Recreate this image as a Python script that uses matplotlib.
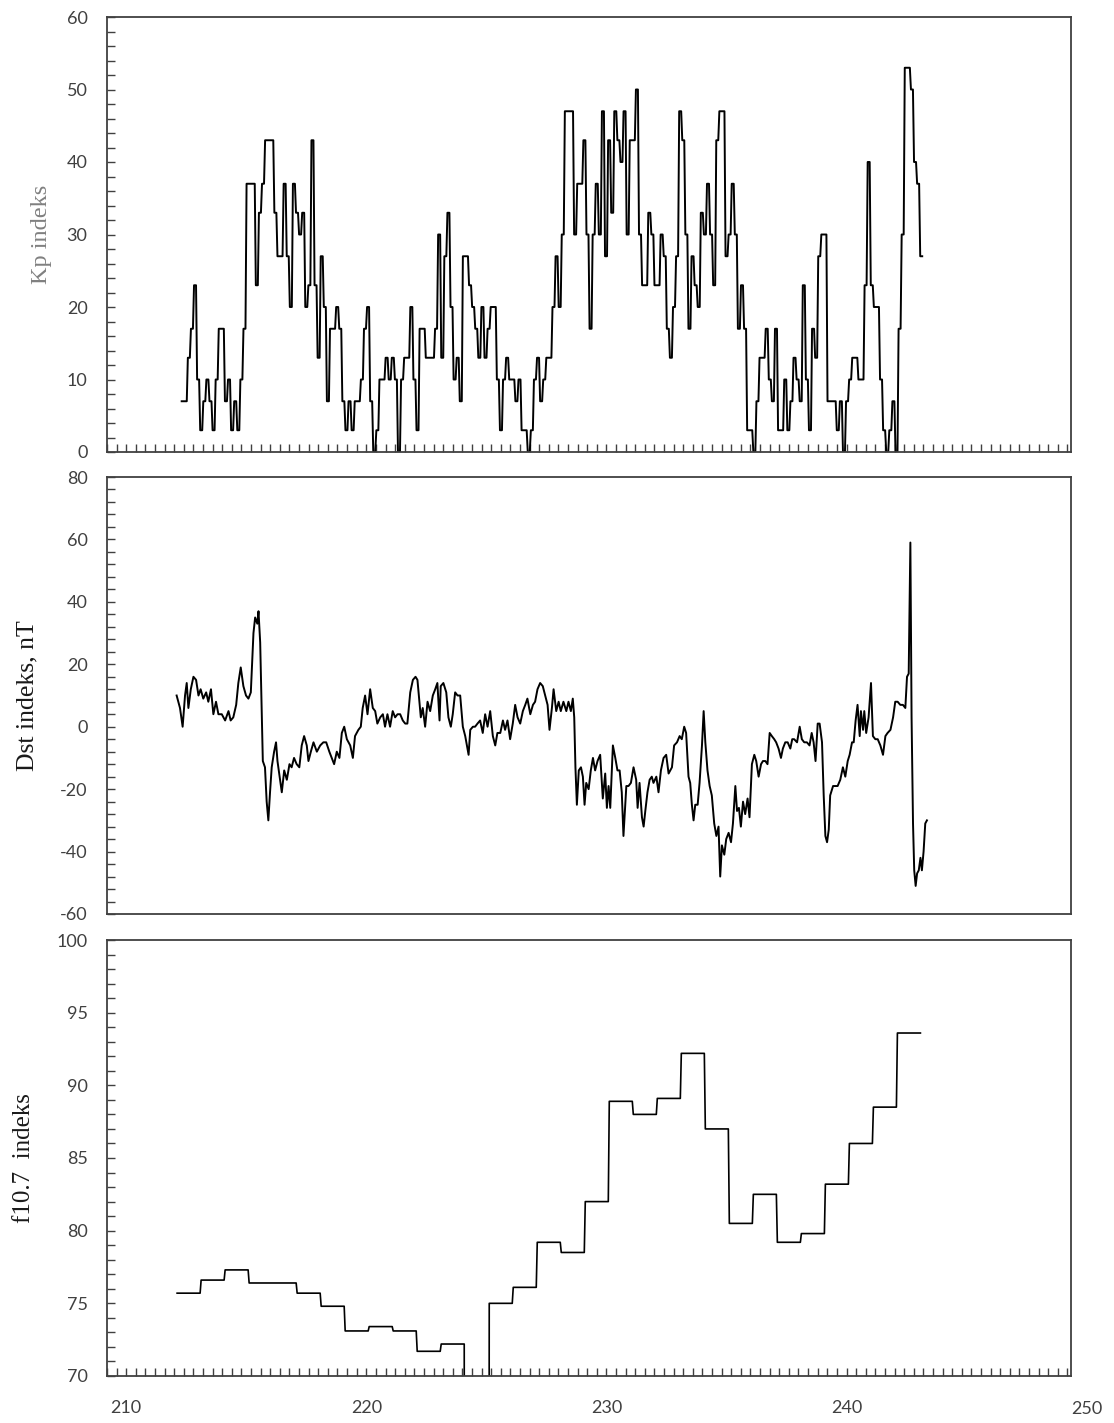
import numpy as np
import matplotlib
matplotlib.use('Agg')
import matplotlib.pyplot as plt
from matplotlib.ticker import MultipleLocator

# Kp indeksi (3 saatlik, x10), gün 212.3 - 243.1
kp_start, kp_end = 212.31, 243.07
kp = [7, 7, 13, 17, 23, 10, 3, 7, 10, 7, 3, 10, 17, 17, 7, 10, 3, 7, 3, 10,
      17, 37, 37, 37, 23, 33, 37, 43, 43, 43, 33, 27, 27, 37, 27, 20, 37, 33, 30, 33,
      20, 23, 43, 23, 13, 27, 20, 7, 17, 17, 20, 17, 7, 3, 7, 3, 7, 7, 10, 17,
      20, 7, 0, 3, 10, 10, 13, 10, 13, 10, 0, 10, 13, 13, 20, 10, 3, 17, 17,
      13, 13, 13, 17, 30, 13, 27, 33, 20, 10, 13, 7, 27, 27, 23, 20, 17, 13, 20, 13,
      17, 20, 20, 10, 3, 10, 13, 10, 10, 7, 10, 3, 3, 0, 3, 10, 13, 7, 10, 13,
      13, 20, 27, 20, 30, 47, 47, 47, 30, 37, 37, 43, 30, 17, 30, 37, 30, 47, 27, 43,
      33, 47, 43, 40, 47, 30, 43, 43, 50, 30, 23, 23, 33, 30, 23, 23, 30,
      27, 17, 13, 20, 27, 47, 43, 30, 17, 27, 23, 20, 33, 30, 37, 30, 23, 43, 47, 47,
      27, 30, 37, 30, 17, 23, 17, 3, 3, 0, 7, 13, 13, 17, 10, 7, 17, 3, 3, 10,
      3, 7, 13, 10, 7, 23, 10, 3, 17, 13, 27, 30, 30, 7, 7, 7, 3, 7, 0, 7,
      10, 13, 13, 10, 10, 23, 40, 23, 20, 20, 10, 3, 0, 3, 7, 0, 17, 30, 53, 53,
      50, 40, 37, 27]

# Dst indeksi (nT)
dst_day = [212.10, 212.24, 212.35, 212.45, 212.52, 212.59, 212.69, 212.80, 212.91, 213.01,
           213.10, 213.21, 213.33, 213.42, 213.53, 213.63, 213.74, 213.84, 213.98, 214.12,
           214.26, 214.35, 214.46, 214.58, 214.67, 214.77, 214.88, 214.99, 215.09, 215.19,
           215.30, 215.37, 215.46, 215.51, 215.58, 215.69, 215.78, 215.85, 215.92, 215.99,
           216.06, 216.16, 216.24, 216.30, 216.41, 216.48, 216.58, 216.69, 216.80, 216.89,
           216.99, 217.10, 217.21, 217.31, 217.41, 217.52, 217.59, 217.69, 217.80, 217.94,
           218.08, 218.21, 218.33, 218.46, 218.56, 218.66, 218.77, 218.88, 218.98, 219.08,
           219.19, 219.33, 219.44, 219.53, 219.67, 219.77, 219.85, 219.95, 220.05, 220.16,
           220.27, 220.37, 220.46, 220.58, 220.69, 220.78, 220.88, 220.99, 221.10, 221.20,
           221.30, 221.41, 221.52, 221.62, 221.71, 221.83, 221.94, 222.05, 222.13, 222.21,
           222.27, 222.35, 222.45, 222.55,
           222.66, 222.77, 222.87, 222.96, 223.05, 223.10, 223.21, 223.33, 223.42, 223.52,
           223.60, 223.70, 223.80, 223.91, 224.02, 224.12, 224.19, 224.26, 224.33, 224.44,
           224.53, 224.63, 224.74, 224.85, 224.95, 225.05, 225.16, 225.27, 225.37, 225.46,
           225.58, 225.69, 225.78, 225.88, 225.99, 226.10, 226.20, 226.30, 226.41, 226.52,
           226.62, 226.71, 226.83, 226.94, 227.03, 227.13, 227.24, 227.35, 227.45, 227.55,
           227.63, 227.73, 227.80, 227.91, 228.01, 228.10, 228.21, 228.33, 228.42, 228.52,
           228.60, 228.66, 228.71, 228.77, 228.85, 228.94, 229.02, 229.09, 229.16, 229.26,
           229.35, 229.44, 229.53, 229.63, 229.74, 229.85, 229.95, 230.02, 230.09, 230.16,
           230.27, 230.37, 230.46, 230.55, 230.64, 230.71, 230.83, 230.92, 231.02, 231.13,
           231.24, 231.30, 231.38, 231.48, 231.55, 231.62, 231.71, 231.80, 231.89, 231.96,
           232.08, 232.17, 232.27, 232.38, 232.49, 232.59,
           232.73, 232.82, 232.94, 233.05, 233.14, 233.24, 233.32, 233.42, 233.49, 233.56,
           233.63, 233.70, 233.80, 233.88, 233.98, 234.05, 234.12, 234.21, 234.30, 234.39,
           234.49, 234.58, 234.67, 234.74, 234.81, 234.91, 234.99, 235.09, 235.19, 235.27,
           235.37, 235.44, 235.52, 235.60, 235.69, 235.78, 235.88, 235.96, 236.06, 236.16,
           236.24, 236.34, 236.44, 236.52, 236.62, 236.71, 236.80, 236.89, 236.99, 237.07,
           237.17, 237.27, 237.35, 237.45, 237.55, 237.66, 237.74, 237.82, 237.94, 238.05,
           238.14, 238.24, 238.35, 238.46, 238.55, 238.63, 238.71, 238.80, 238.88, 238.98,
           239.05, 239.12, 239.19, 239.26, 239.32, 239.44, 239.53, 239.63, 239.74, 239.85,
           239.95, 240.05, 240.13, 240.23, 240.30, 240.38, 240.46, 240.55, 240.60, 240.69,
           240.74, 240.82, 240.92, 241.02, 241.10, 241.20, 241.30, 241.41, 241.52, 241.62,
           241.71, 241.83, 241.94, 242.03, 242.13, 242.24, 242.35, 242.45, 242.52, 242.59,
           242.66, 242.71, 242.77, 242.82, 242.88, 242.94, 243.01, 243.08, 243.14, 243.21,
           243.28, 243.35]
dst = [10, 6, 0, 10, 14, 6, 12, 16, 15, 10,
       12, 9, 11, 8, 12, 4, 8, 4, 4, 2,
       5, 2, 3, 7, 14, 19, 13, 10, 9, 11,
       30, 35, 33, 37, 27, -11, -13, -24, -30, -21,
       -13, -8, -5, -11, -17, -21, -14, -17, -12, -13,
       -10, -12, -13, -6, -3, -6, -11, -8, -5, -8,
       -6, -5, -5, -8, -10, -12, -8, -10, -2, 0,
       -4, -6, -10, -3, -1, 0, 6, 10, 4, 12,
       6, 5, 1, 3, 4, 0, 4, 0, 5, 3,
       4, 4, 2, 1, 1, 11, 15, 16, 15, 8,
       3, 6, 0, 8,
       5, 10, 12, 14, 2, 13, 14, 11, 3, 0,
       4, 11, 10, 10, 0, -3, -6, -9, -1, 0,
       0, 1, 2, -2, 4, 0, 5, -3, -6, -2,
       -2, 2, -1, 2, -4, 1, 7, 3, 1, 5,
       7, 9, 4, 7, 8, 12, 14, 13, 10, 7,
       -1, 6, 12, 5, 8, 5, 8, 5, 8, 5,
       9, 3, -13, -25, -14, -13, -16, -25, -18, -20,
       -14, -10, -14, -11, -9, -23, -15, -26, -19, -26,
       -6, -10, -14, -14, -21, -35, -19, -19, -18, -13,
       -17, -26, -18, -29, -32, -27, -21, -17, -16, -18,
       -16, -21, -14, -10, -9, -15,
       -13, -6, -5, -3, -4, 0, -2, -16, -18, -25,
       -30, -25, -25, -18, -6, 5, -5, -14, -19, -22,
       -31, -35, -32, -48, -38, -41, -36, -34, -37, -31,
       -19, -27, -26, -32, -24, -28, -23, -29, -12, -9,
       -11, -16, -12, -11, -11, -12, -2, -3, -4, -5,
       -7, -10, -7, -5, -5, -7, -4, -4, -5, 0,
       -4, -5, -5, -6, -2, -5, -11, 1, 1, -5,
       -22, -35, -37, -33, -22, -19, -19, -19, -17, -13,
       -16, -11, -9, -5, -5, 2, 7, -3, 5, -1,
       5, -2, 3, 14, -3, -4, -4, -6, -9, -3,
       -2, -1, 3, 8, 8, 7, 7, 6, 16, 17,
       59, 3, -31, -46, -51, -47, -46, -42, -46, -40,
       -31, -30]

# f10.7 indeksi (günlük); 0 = veri yok
f107_start = 212.12
f107 = [75.7, 76.6, 77.3, 76.4, 76.4, 75.7, 74.8, 73.1, 73.4, 73.1,
        71.7, 72.2, 0, 75.0, 76.1, 79.2, 78.5, 82.0, 88.9, 88.0,
        89.1, 92.2, 87.0, 80.5, 82.5, 79.2, 79.8, 83.2, 86.0, 88.5,
        93.6]

xticks = [210, 220, 230, 240, 250]

plt.rcParams['font.family'] = ['Lato', 'DejaVu Sans']
plt.rcParams['axes.unicode_minus'] = False
W, H = 1114, 1423
fig = plt.figure(figsize=(W / 100, H / 100), dpi=100)

left, width = 107 / W, 964 / W
ax1 = fig.add_axes([left, 1 - 452 / H, width, 435 / H])
ax2 = fig.add_axes([left, 1 - 914 / H, width, 437 / H])
ax3 = fig.add_axes([left, 1 - 1376 / H, width, 436 / H])

# saatlik çizgi: her 3 saatlik değer 3 kez tekrarlanıyor
t = np.linspace(kp_start, kp_end, len(kp))
kp_x = (t[:, None] + np.array([0, 1, 2]) / 24).ravel()
kp_y = np.repeat(kp, 3)
ax1.plot(kp_x, kp_y, color='black', lw=1.4)

ax2.plot(dst_day, dst, color='black', lw=1.4)

d = f107_start + np.arange(len(f107))
f_x = (d[:, None] + np.array([0, 23]) / 24).ravel()
f_y = np.repeat(f107, 2)
ax3.plot(f_x, f_y, color='black', lw=1.2)

tick_col = '#404040'
for ax in (ax1, ax2, ax3):
    ax.set_xlim(209.2, 249.35)
    for s in ax.spines.values():
        s.set_color('#404040')
        s.set_linewidth(1.3)
    ax.tick_params(axis='y', which='both', direction='in', length=6, width=1,
                   color='#404040', labelcolor=tick_col, labelsize=13, pad=14)
    ax.tick_params(axis='x', which='both', direction='in', length=6, width=1,
                   color='#404040', labelcolor=tick_col, labelsize=13, pad=17)

ax1.set_ylim(0, 60)
ax1.yaxis.set_major_locator(MultipleLocator(10))
ax1.yaxis.set_minor_locator(MultipleLocator(2))
ax1.xaxis.set_major_locator(MultipleLocator(0.4))
ax1.set_xticklabels([])

ax2.set_ylim(-60, 80)
ax2.yaxis.set_major_locator(MultipleLocator(20))
ax2.yaxis.set_minor_locator(MultipleLocator(4))
ax2.set_xticks([])

ax3.set_ylim(70, 100)
ax3.yaxis.set_major_locator(MultipleLocator(5))
ax3.yaxis.set_minor_locator(MultipleLocator(1))
ax3.xaxis.set_minor_locator(MultipleLocator(0.4))
ax3.set_xticks(xticks[:-1])
ax3.tick_params(axis='x', which='major', length=6)
# 250 etiketi eksen sınırının hemen dışında
ax3.text(xticks[-1], -0.075, str(xticks[-1]), transform=ax3.get_xaxis_transform(),
         ha='center', va='center', fontsize=13, color=tick_col, clip_on=False)

serif = ['Liberation Serif', 'DejaVu Serif']
ax1.set_ylabel('Kp indeks', family=serif, fontsize=17.5, color='#808080', va='center')
ax2.set_ylabel('Dst indeks, nT', family=serif, fontsize=18.5, color='#1a1a1a', va='center')
ax3.set_ylabel('f10.7  indeks', family=serif, fontsize=18, color='#1a1a1a', va='center')
ax1.yaxis.set_label_coords(-0.068, 0.5)
ax2.yaxis.set_label_coords(-0.082, 0.5)
ax3.yaxis.set_label_coords(-0.086, 0.5)

fig.savefig('out.png', dpi=100)
